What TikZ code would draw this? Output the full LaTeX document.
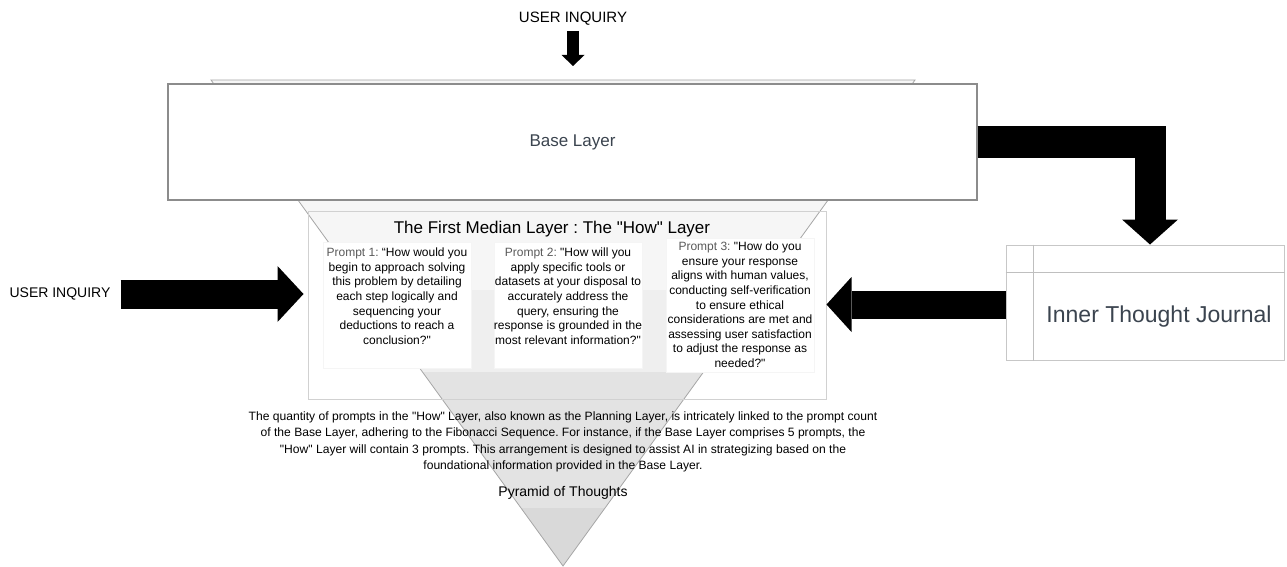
\documentclass[tikz,border=0pt]{standalone}
\usepackage{fontspec}
\setmainfont{Liberation Sans}[Ligatures=TeXOff]
\usetikzlibrary{arrows.meta,calc}
\frenchspacing
\definecolor{slate}{HTML}{3B444F}
\definecolor{promptgray}{HTML}{5A5A5A}
\definecolor{bandA}{HTML}{F6F6F6}
\definecolor{bandB}{HTML}{EFEFEF}
\definecolor{bandC}{HTML}{E3E3E3}
\definecolor{bandD}{HTML}{D9D9D9}
\newcommand{\fsz}[2]{\fontsize{#1}{#2}\selectfont}
\begin{document}
\begin{tikzpicture}[x=1pt,y=-1pt,
  layerbox/.style={fill=white,inner sep=0pt,line width=1pt},
  promptbox/.style={fill=white,draw=black!4,inner sep=0pt,minimum width=148pt},
  prompttext/.style={align=center,anchor=north,inner sep=0pt,font=\fsz{12}{14.6}},
  caption/.style={inner sep=2pt},
  blockarrow/.style={draw=black,line cap=butt,line join=miter}
]
\useasboundingbox (0,0) rectangle (1287,567);

% the "How" layer frame (fill first, border after the pyramid)
\node[layerbox,minimum width=517pt,minimum height=187pt] (how) at (567.5,305.5) {};

% pyramid of thoughts with its shaded slices
\coordinate (pyl) at (211,80);
\coordinate (pyr) at (915,80);
\coordinate (apex) at (563,566);
\begin{scope}
  \clip (pyl) -- (pyr) -- (apex) -- cycle;
  \fill[bandA] (0,78) rectangle (1287,290);
  \fill[bandB] (0,290) rectangle (1287,372);
  \fill[bandC] (0,372) rectangle (1287,508);
  \fill[bandD] (0,508) rectangle (1287,567);
\end{scope}
\draw[black!35,line width=0.8pt] (pyl) -- (pyr) -- (apex) -- cycle;
\draw[black!18,line width=1pt] (how.north west) rectangle (how.south east);

% base layer
\node[layerbox,draw=black!45,line width=1.2pt,minimum width=809pt,minimum height=116pt,
      text=slate,font=\fsz{17}{20}] (base) at (572.5,142) {Base Layer};

% title of the "How" layer
\node[caption,font=\fsz{17}{20}] (howtitle) at (552,229)
  {The First Median Layer : The "How" Layer};

% prompt cards
\node[promptbox,minimum height=126pt] (p1) at (397,305) {};
\node[promptbox,minimum height=126pt] (p2) at (568,305) {};
\node[promptbox,minimum height=134pt] (p3) at (740,305) {};
\node[prompttext] (p1t) at ($(p1.north)+(0,6)$)
  {\textcolor{promptgray}{Prompt 1:} “How would you\\begin to approach solving\\this problem by detailing\\each step logically and\\sequencing your\\deductions to reach a\\conclusion?"};
\node[prompttext] (p2t) at ($(p2.north)+(0,6)$)
  {\textcolor{promptgray}{Prompt 2:} "How will you\\apply specific tools or\\datasets at your disposal to\\accurately address the\\query, ensuring the\\response is grounded in the\\most relevant information?"};
\node[prompttext] (p3t) at ($(p3.north)+(0,4)$)
  {\textcolor{promptgray}{Prompt 3:} "How do you\\ensure your response\\aligns with human values,\\conducting self-verification\\to ensure ethical\\considerations are met and\\assessing user satisfaction\\to adjust the response as\\needed?"};

% inner thought journal
\node[layerbox,draw=black!22,minimum width=278pt,minimum height=115pt] (journal) at (1145,302.5) {};
\draw[black!25,line width=1pt] ($(journal.north west)+(28,0)$) -- ($(journal.south west)+(28,0)$);
\draw[black!25,line width=1pt] ($(journal.north west)+(0,28)$) -- ($(journal.north east)+(0,28)$);
\node[text=slate,font=\fsz{23}{27}] (jtext) at (1159,316.5) {Inner Thought Journal};

% user inquiries
\node[caption,font=\fsz{15}{18}] (uqtop) at (573,19) {USER INQUIRY};
\node[caption,font=\fsz{14}{17}] (uqleft) at (60,294) {USER INQUIRY};

% explanatory note and caption
\node[align=center,inner sep=0pt,font=\fsz{12.1}{16.3}] (note) at (563,442)
  {The quantity of prompts in the "How" Layer, also known as the Planning Layer, is intricately linked to the prompt count\\
   of the Base Layer, adhering to the Fibonacci Sequence. For instance, if the Base Layer comprises 5 prompts, the\\
   "How" Layer will contain 3 prompts. This arrangement is designed to assist AI in strategizing based on the\\
   foundational information provided in the Base Layer.};
\node[caption,font=\fsz{14}{17}] (pot) at (563,493) {Pyramid of Thoughts};

% block arrows
\coordinate (toptip) at (573,66);
\draw[blockarrow,line width=12pt,-{Triangle[length=11pt,width=23pt,line width=0pt]}]
  ($(uqtop.south)+(0,3)$) -- (toptip);
\draw[blockarrow,line width=29pt,-{Triangle[length=26pt,width=56pt,line width=0pt]}]
  ($(uqleft.east)+(8,0)$) -- ($(uqleft.east -| how.west)+(-5,0)$);
\draw[blockarrow,line width=28pt,-{Triangle[length=25pt,width=55pt,line width=0pt]}]
  ($(journal.west)+(0,2)$) -- ($(journal.west -| how.east)+(0,2)$);
\draw[blockarrow,line width=31pt,-{Triangle[length=25pt,width=56pt,line width=0pt]}]
  (base.east) -| ($(journal.north)+(5,0)$);
\end{tikzpicture}
\end{document}
